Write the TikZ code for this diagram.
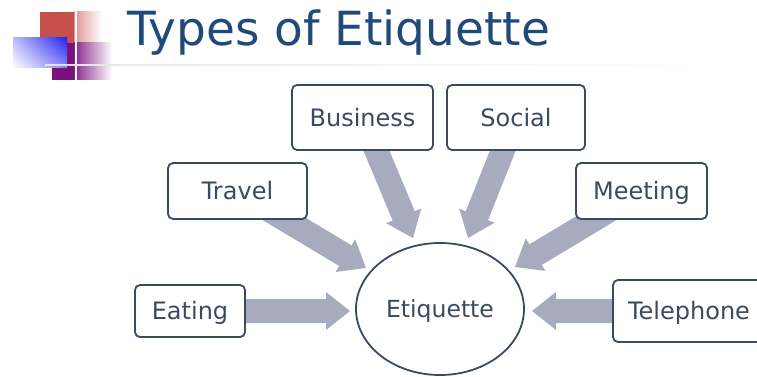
\documentclass[tikz,border=0pt]{standalone}
\usepackage{fontspec}
\setmainfont{DejaVu Sans}
\usetikzlibrary{calc,shapes.geometric,backgrounds,fadings,shadings}
\definecolor{titleblue}{HTML}{204A7A}
\definecolor{boxline}{HTML}{3B4A60}
\definecolor{arrowgray}{HTML}{A6ABBD}
\definecolor{logored}{HTML}{C8504C}
\definecolor{logopurple}{HTML}{7A0F7E}
\definecolor{logoblue}{HTML}{2424EE}
\tikzset{
  box/.style={draw=boxline, line width=1.8pt, rounded corners=5pt, fill=white,
    text=boxline, font=\fontsize{24}{28}\selectfont, inner sep=0pt,
    text height=17.5pt, text depth=0pt},
  hubstyle/.style={ellipse, draw=boxline, line width=1.8pt, fill=white,
    text=boxline, font=\fontsize{23.5}{27}\selectfont, inner sep=0pt,
    text height=17pt, text depth=0pt},
}
\newcommand\blkarrow[2]{%
  \path ($(#2)!24pt!(#1)$) coordinate (ba-base);
  \fill[arrowgray] ($(#1)!12pt!90:(#2)$) -- ($(ba-base)!12pt!-90:(#1)$)
    -- ($(ba-base)!19pt!-90:(#1)$) -- (#2) -- ($(ba-base)!19pt!90:(#1)$)
    -- ($(ba-base)!12pt!90:(#1)$) -- ($(#1)!12pt!-90:(#2)$) -- cycle;
}
\begin{document}
\begin{tikzpicture}[x=1pt,y=-1pt]
\useasboundingbox (0,0) rectangle (757,377);
% logo
\fill[logored] (40,12) rectangle (74,43);
\shade[left color=logored!60, right color=white] (74,12) rectangle (102,43);
\fill[logopurple] (52,43) rectangle (74,80);
\shade[left color=logopurple!90, right color=white] (74,43) rectangle (112,80);
\shade[upper left=logoblue!30, upper right=logoblue, lower left=white, lower right=logoblue!55] (13,38) rectangle (67,68);
\draw[white, line width=2pt] (75.5,5) -- (75.5,82);
\shade[left color=black!10, right color=white] (45,64.5) rectangle (700,66);
\draw[white!85!black, line width=1.2pt] (52,65.3) -- (74,65.3);
% title
\node[anchor=base west, text=titleblue, font=\fontsize{47}{52}\selectfont, inner sep=0pt] (title) at (127,46) {Types of Etiquette};
% nodes
\node[box, minimum width=141pt, minimum height=65pt] (business) at (362.5,117.5) {Business};
\node[box, minimum width=138pt, minimum height=65pt] (social) at (516,117.5) {Social};
\node[box, minimum width=139pt, minimum height=56pt] (travel) at (237.5,191) {Travel};
\node[box, minimum width=131pt, minimum height=56pt] (meeting) at (641.5,191) {Meeting};
\node[box, minimum width=110pt, minimum height=52pt] (eating) at (190,311) {Eating};
\node[box, minimum width=152pt, minimum height=62pt] (telephone) at (689,311) {Telephone};
\node[hubstyle, minimum width=168pt, minimum height=132pt] (hub) at (440,309) {Etiquette};
% arrow tips
\coordinate (tEating) at (350,311);
\coordinate (tTelephone) at (532,311);
\coordinate (tTravel) at (366,268);
\coordinate (tBusiness) at (413,238);
\coordinate (tSocial) at (468,238);
\coordinate (tMeeting) at (515,267);
\begin{pgfonlayer}{background}
\fill[white] (0,0) rectangle (757,377);
\blkarrow{eating.center}{tEating}
\blkarrow{telephone.center}{tTelephone}
\blkarrow{travel.center}{tTravel}
\blkarrow{business.center}{tBusiness}
\blkarrow{social.center}{tSocial}
\blkarrow{meeting.center}{tMeeting}
\end{pgfonlayer}
\end{tikzpicture}
\end{document}
